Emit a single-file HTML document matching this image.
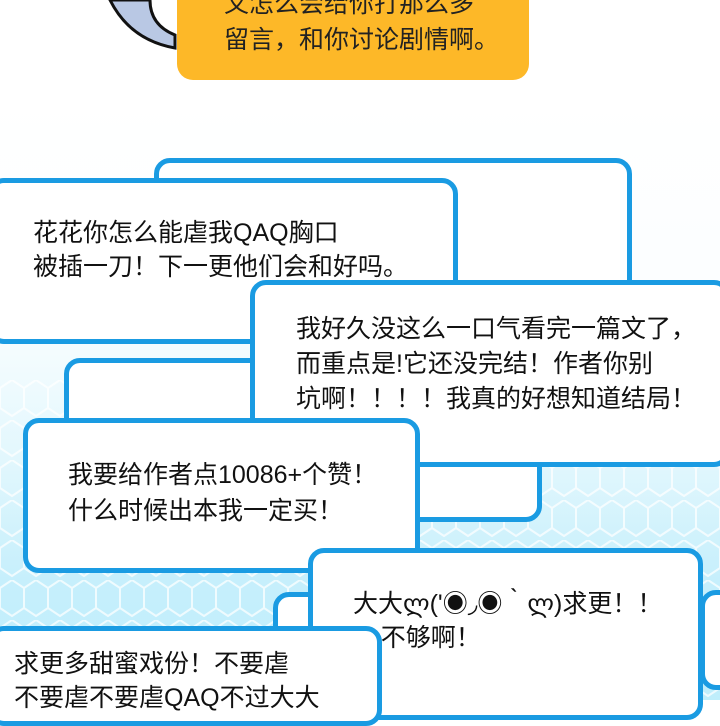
<!DOCTYPE html>
<html><head><meta charset="utf-8"><style>
body{margin:0;width:720px;height:700px;overflow:hidden;position:relative;background:#fff;font-family:"Liberation Sans","Noto Sans CJK SC",sans-serif;}
.bg{position:absolute;left:0;top:100px;width:720px;height:600px;background:linear-gradient(180deg,#fff 0%,#fbfeff 35%,#e2f7fd 60%,#c6effc 80%,#bfeefb 100%);}
.b{position:absolute;background:#fff;border:5px solid #1a9be2;border-radius:16px;box-sizing:border-box;}
.t{position:absolute;font-size:25px;line-height:34px;color:#111;white-space:nowrap;}
</style></head><body>
<div class="bg"></div>
<svg style="position:absolute;left:0;top:100px" width="720" height="600">
<defs><pattern id="h" width="24" height="40" patternUnits="userSpaceOnUse">
<path d="M12 0 L24 8 L24 28 L12 36 L0 28 L0 8 Z" fill="none" stroke="#fff" stroke-width="2" opacity="0.8"/>
</pattern></defs>
<rect x="0" y="280" width="720" height="320" fill="url(#h)" opacity="0.9"/>
</svg>
<svg style="position:absolute;left:0;top:0" width="200" height="60"><path d="M110 0 Q130 40 175 48 L175 35 Q150 25 150 0 Z" fill="#b9c8e4" stroke="#111" stroke-width="3"/></svg>
<div style="position:absolute;left:177px;top:-20px;width:352px;height:100px;background:#fdb828;border-radius:16px;"></div>
<div class="t" style="left:224px;top:-14px;font-size:25px;line-height:36px;color:#222">又怎么会给你打那么多<br>留言，和你讨论剧情啊。</div>
<div class="b" style="left:154px;top:158px;width:478px;height:150px"></div>
<div class="b" style="left:-12px;top:178px;width:470px;height:166px"></div>
<div class="t" style="left:33px;top:216px">花花你怎么能虐我QAQ胸口<br>被插一刀！下一更他们会和好吗。</div>
<div class="b" style="left:64px;top:358px;width:478px;height:164px"></div>
<div class="b" style="left:250px;top:280px;width:480px;height:187px"></div>
<div class="t" style="left:296px;top:312px;line-height:35px">我好久没这么一口气看完一篇文了，<br>而重点是!它还没完结！作者你别<br>坑啊！！！！我真的好想知道结局！</div>
<div class="b" style="left:700px;top:590px;width:60px;height:100px"></div>
<div class="b" style="left:23px;top:418px;width:397px;height:155px"></div>
<div class="t" style="left:68px;top:457px;line-height:36px">我要给作者点10086+个赞！<br>什么时候出本我一定买！</div>
<div class="b" style="left:273px;top:592px;width:80px;height:120px"></div>
<div class="b" style="left:308px;top:548px;width:395px;height:172px"></div>
<div class="t" style="left:353px;top:587px">大大ლ('◉◞◉｀ლ)求更！！<br>&nbsp;&nbsp;&nbsp;&nbsp;不够啊！</div>
<div class="b" style="left:-12px;top:626px;width:394px;height:100px"></div>
<div class="t" style="left:14px;top:647px;line-height:34px">求更多甜蜜戏份！不要虐<br>不要虐不要虐QAQ不过大大</div>
</body></html>
